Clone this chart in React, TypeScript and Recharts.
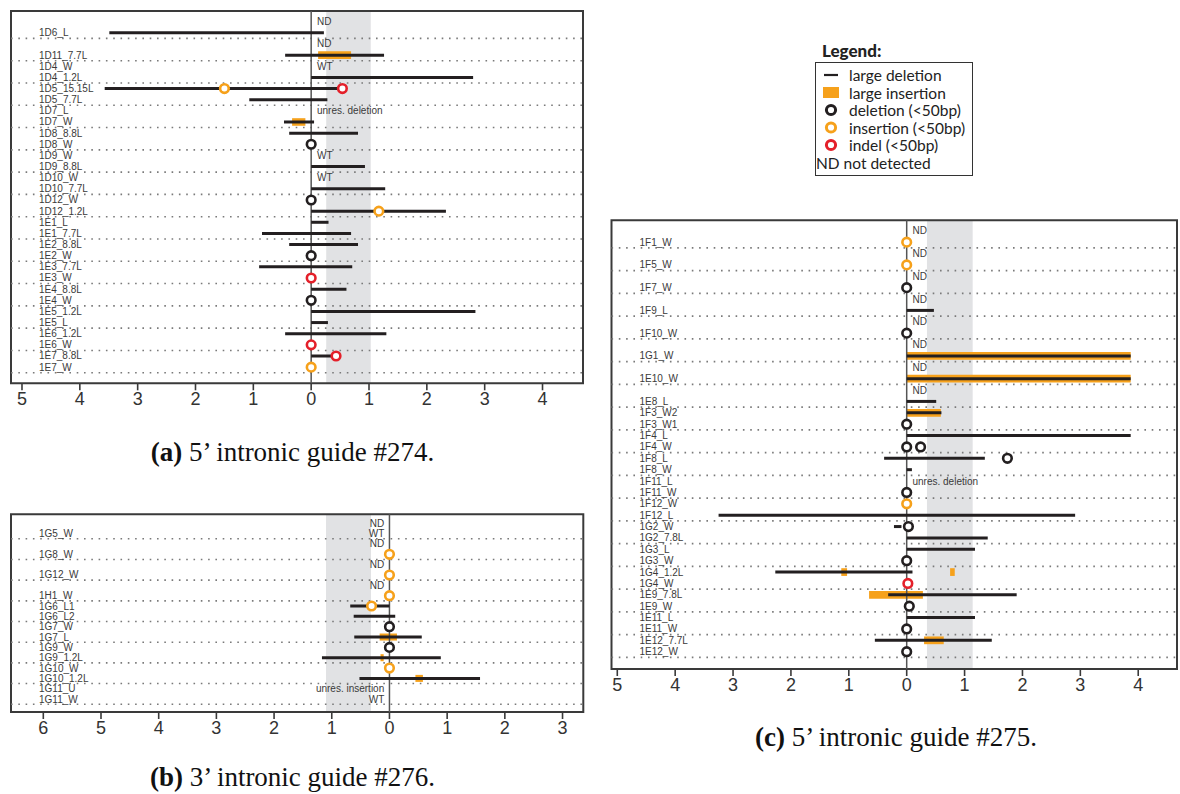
import React from 'react'
import { ScatterChart, Scatter, XAxis, YAxis, ReferenceLine, ReferenceArea } from 'recharts'

type Seg = { row: number; from: number; to: number }
type Mark = { row: number; x: number }
type Note = { row: number; text: string }

const BLACK = '#231f20'
const ORANGE = '#f6a11b'
const RED = '#e4202a'
const FRAME = '#3a3a3a'

// (a) 5' intronic guide #274
const labelsA = [
  '', '1D6_L', '', '1D11_7.7L', '1D4_W', '1D4_1.2L', '1D5_15.15L', '1D5_7.7L',
  '1D7_L', '1D7_W', '1D8_8.8L', '1D8_W', '1D9_W', '1D9_8.8L', '1D10_W', '1D10_7.7L',
  '1D12_W', '1D12_1.2L', '1E1_L', '1E1_7.7L', '1E2_8.8L', '1E2_W', '1E3_7.7L', '1E3_W',
  '1E4_8.8L', '1E4_W', '1E5_1.2L', '1E5_L', '1E6_1.2L', '1E6_W', '1E7_8.8L', '1E7_W',
]
const deletionsA: Seg[] = [
  { row: 1, from: -3.49, to: 0.22 },
  { row: 3, from: -0.45, to: 1.26 },
  { row: 5, from: 0, to: 2.8 },
  { row: 6, from: -3.57, to: 0.52 },
  { row: 7, from: -1.07, to: 0.28 },
  { row: 9, from: -0.47, to: 0.05 },
  { row: 10, from: -0.38, to: 0.81 },
  { row: 13, from: 0, to: 0.93 },
  { row: 15, from: 0, to: 1.28 },
  { row: 17, from: 0, to: 2.33 },
  { row: 18, from: 0, to: 0.3 },
  { row: 19, from: -0.85, to: 0.69 },
  { row: 20, from: -0.38, to: 0.81 },
  { row: 22, from: -0.9, to: 0.71 },
  { row: 24, from: 0, to: 0.61 },
  { row: 26, from: 0, to: 2.84 },
  { row: 27, from: 0, to: 0.29 },
  { row: 28, from: -0.45, to: 1.3 },
  { row: 30, from: 0, to: 0.43 },
]
const insertionsA: Seg[] = [
  { row: 3, from: 0.12, to: 0.69 },
  { row: 9, from: -0.33, to: -0.1 },
]
const smallDelA: Mark[] = [
  { row: 11, x: 0 }, { row: 16, x: 0 }, { row: 21, x: 0 }, { row: 25, x: 0 },
]
const smallInsA: Mark[] = [
  { row: 6, x: -1.5 }, { row: 17, x: 1.17 }, { row: 31, x: 0 },
]
const indelA: Mark[] = [
  { row: 6, x: 0.54 }, { row: 23, x: 0 }, { row: 29, x: 0 }, { row: 30, x: 0.43 },
]
const notesA: Note[] = [
  { row: 0, text: 'ND' }, { row: 2, text: 'ND' }, { row: 4, text: 'WT' },
  { row: 8, text: 'unres. deletion' }, { row: 12, text: 'WT' }, { row: 14, text: 'WT' },
]
const ticksA = [-5, -4, -3, -2, -1, 0, 1, 2, 3, 4]

// (b) 3' intronic guide #276
const labelsB = [
  '', '1G5_W', '', '1G8_W', '', '1G12_W', '', '1H1_W', '1G6_L1', '1G6_L2',
  '1G7_W', '1G7_L', '1G9_W', '1G9_1.2L', '1G10_W', '1G10_1.2L', '1G11_U', '1G11_W',
]
const deletionsB: Seg[] = [
  { row: 8, from: -0.68, to: 0 },
  { row: 9, from: -0.62, to: 0.1 },
  { row: 11, from: -0.61, to: 0.56 },
  { row: 13, from: -1.17, to: 0.89 },
  { row: 15, from: -0.52, to: 1.57 },
]
const insertionsB: Seg[] = [
  { row: 11, from: -0.17, to: 0.13 },
  { row: 13, from: -0.155, to: -0.1 },
  { row: 15, from: 0.45, to: 0.58 },
]
const smallDelB: Mark[] = [{ row: 10, x: 0 }, { row: 12, x: 0 }]
const smallInsB: Mark[] = [
  { row: 3, x: 0 }, { row: 5, x: 0 }, { row: 7, x: 0 }, { row: 8, x: -0.31 }, { row: 14, x: 0 },
]
const indelB: Mark[] = []
const notesB: Note[] = [
  { row: 0, text: 'ND' }, { row: 1, text: 'WT' }, { row: 2, text: 'ND' }, { row: 4, text: 'ND' },
  { row: 6, text: 'ND' }, { row: 16, text: 'unres. insertion' }, { row: 17, text: 'WT' },
]
const ticksB = [-6, -5, -4, -3, -2, -1, 0, 1, 2, 3]

// (c) 5' intronic guide #275
const labelsC = [
  '', '1F1_W', '', '1F5_W', '', '1F7_W', '', '1F9_L', '', '1F10_W', '', '1G1_W', '', '1E10_W',
  '', '1E8_L', '1F3_W2', '1F3_W1', '1F4_L', '1F4_W', '1F8_L', '1F8_W', '1F11_L', '1F11_W',
  '1F12_W', '1F12_L', '1G2_W', '1G2_7.8L', '1G3_L', '1G3_W', '1G4_1.2L', '1G4_W',
  '1E9_7.8L', '1E9_W', '1E11_L', '1E11_W', '1E12_7.7L', '1E12_W',
]
const deletionsC: Seg[] = [
  { row: 7, from: 0, to: 0.47 },
  { row: 11, from: 0, to: 3.87 },
  { row: 13, from: 0, to: 3.87 },
  { row: 15, from: 0, to: 0.51 },
  { row: 16, from: 0, to: 0.6 },
  { row: 18, from: 0, to: 3.87 },
  { row: 20, from: -0.39, to: 1.35 },
  { row: 21, from: 0, to: 0.09 },
  { row: 25, from: -3.25, to: 2.91 },
  { row: 26, from: -0.22, to: -0.09 },
  { row: 27, from: 0, to: 1.4 },
  { row: 28, from: 0, to: 1.18 },
  { row: 30, from: -2.27, to: 0.1 },
  { row: 32, from: -0.32, to: 1.9 },
  { row: 34, from: 0, to: 1.18 },
  { row: 36, from: -0.55, to: 1.47 },
]
const insertionsC: Seg[] = [
  { row: 11, from: 0, to: 3.87 },
  { row: 13, from: 0, to: 3.87 },
  { row: 16, from: 0, to: 0.59 },
  { row: 30, from: -1.13, to: -1.03 },
  { row: 30, from: 0.75, to: 0.83 },
  { row: 32, from: -0.65, to: 0.28 },
  { row: 36, from: 0.3, to: 0.64 },
]
const smallDelC: Mark[] = [
  { row: 5, x: 0 }, { row: 9, x: 0 }, { row: 17, x: 0 }, { row: 19, x: 0 }, { row: 19, x: 0.24 },
  { row: 20, x: 1.74 }, { row: 23, x: 0 }, { row: 26, x: 0.03 }, { row: 29, x: 0 },
  { row: 33, x: 0.045 }, { row: 35, x: 0 }, { row: 37, x: 0 },
]
const smallInsC: Mark[] = [{ row: 1, x: 0 }, { row: 3, x: 0 }, { row: 24, x: 0 }]
const indelC: Mark[] = [{ row: 31, x: 0.02 }]
const notesC: Note[] = [
  { row: 0, text: 'ND' }, { row: 2, text: 'ND' }, { row: 4, text: 'ND' }, { row: 6, text: 'ND' },
  { row: 8, text: 'ND' }, { row: 10, text: 'ND' }, { row: 12, text: 'ND' }, { row: 14, text: 'ND' },
  { row: 22, text: 'unres. deletion' },
]
const ticksC = [-5, -4, -3, -2, -1, 0, 1, 2, 3, 4]

const ring = (color: string) => (props: any) => (
  <circle cx={props.cx} cy={props.cy} r={4.3} fill="#fff" stroke={color} strokeWidth={2.6} />
)

interface PanelProps {
  labels: string[]
  dels: Seg[]
  ins: Seg[]
  smallDel: Mark[]
  smallIns: Mark[]
  indel: Mark[]
  notes: Note[]
  ticks: number[]
  xDomain: [number, number]
  yDomain: [number, number]
  band: [number, number]
  notesLeft?: boolean
  width: number
  height: number
  margin: { top: number; right: number; bottom: number; left: number }
}

const Panel: React.FC<PanelProps> = (p) => {
  const rows = p.labels.map((_, i) => i)
  const seps = rows.filter((i) => i % 2 === 1).map((i) => i + 0.5)
  const noteX = p.notesLeft ? -0.09 : 0.1
  const toPts = (m: Mark[]) => m.map((d) => ({ x: d.x, y: d.row }))
  const notePts = p.notes.map((n) => ({ x: noteX, y: n.row, text: n.text }))

  return (
    <ScatterChart width={p.width} height={p.height} margin={p.margin}>
      <XAxis
        type="number"
        dataKey="x"
        domain={p.xDomain}
        allowDataOverflow
        ticks={p.ticks}
        interval={0}
        tickFormatter={(v: number) => String(Math.abs(v))}
        axisLine={false}
        tickLine={{ stroke: FRAME, strokeWidth: 1.6 }}
        tickSize={7}
        tickMargin={2}
        height={30}
        tick={{ fontSize: 18, fill: '#333', fontFamily: 'Liberation Sans, Arial, sans-serif' }}
      />
      <YAxis
        type="number"
        dataKey="y"
        domain={p.yDomain}
        allowDataOverflow
        reversed
        ticks={rows}
        interval={0}
        width={1}
        axisLine={false}
        tickLine={false}
        tickSize={0}
        tickMargin={0}
        tick={(t: any) => (
          <text
            x={t.x + 28}
            y={t.y}
            dominantBaseline="central"
            fontSize={10}
            fill="#3a3a3a"
            fontFamily="Liberation Sans, Arial, sans-serif"
          >
            {p.labels[t.payload.value] ?? ''}
          </text>
        )}
      />
      <ReferenceArea
        x1={p.band[0]}
        x2={p.band[1]}
        y1={p.yDomain[0]}
        y2={p.yDomain[1]}
        fill="#e1e2e4"
        fillOpacity={1}
        stroke="none"
      />
      {seps.map((y) => (
        <ReferenceLine key={'s' + y} y={y} stroke="#7a7a7a" strokeWidth={1.6} strokeDasharray="1.6 5.7" />
      ))}
      <ReferenceLine x={0} stroke="#555" strokeWidth={1.5} />
      {p.ins.map((s, i) => (
        <ReferenceArea
          key={'i' + i}
          x1={s.from}
          x2={s.to}
          y1={s.row - 0.34}
          y2={s.row + 0.34}
          fill={ORANGE}
          fillOpacity={1}
          stroke="none"
        />
      ))}
      {p.dels.map((s, i) => (
        <ReferenceLine
          key={'d' + i}
          segment={[{ x: s.from, y: s.row }, { x: s.to, y: s.row }]}
          stroke={BLACK}
          strokeWidth={3}
        />
      ))}
      <Scatter data={toPts(p.smallDel)} shape={ring(BLACK)} isAnimationActive={false} />
      <Scatter data={toPts(p.smallIns)} shape={ring(ORANGE)} isAnimationActive={false} />
      <Scatter data={toPts(p.indel)} shape={ring(RED)} isAnimationActive={false} />
      <Scatter
        data={notePts}
        isAnimationActive={false}
        shape={(s: any) => (
          <text
            x={s.cx}
            y={s.cy}
            dominantBaseline="central"
            textAnchor={p.notesLeft ? 'end' : 'start'}
            fontSize={10}
            fill="#3a3a3a"
            fontFamily="Liberation Sans, Arial, sans-serif"
          >
            {s.payload.text}
          </text>
        )}
      />
      <ReferenceArea
        x1={p.xDomain[0]}
        x2={p.xDomain[1]}
        y1={p.yDomain[0]}
        y2={p.yDomain[1]}
        fill="none"
        stroke={FRAME}
        strokeWidth={2}
      />
    </ScatterChart>
  )
}

const captionStyle: React.CSSProperties = {
  position: 'absolute',
  textAlign: 'center',
  fontFamily: 'Liberation Serif, Times New Roman, serif',
  fontSize: 27,
  lineHeight: '30px',
  color: '#111',
}

const legendFont = 'Lato, Open Sans, sans-serif'

const App = () => {
  return (
    <div style={{ position: 'absolute', left: 0, top: 0, width: 1180, height: 794, background: '#fff' }}>
      <div style={{ position: 'absolute', left: 0, top: 0 }}>
        <Panel
          labels={labelsA}
          dels={deletionsA}
          ins={insertionsA}
          smallDel={smallDelA}
          smallIns={smallInsA}
          indel={indelA}
          notes={notesA}
          ticks={ticksA}
          xDomain={[-5.19, 4.7]}
          yDomain={[-0.96, 32.45]}
          band={[0.26, 1.03]}
          width={600}
          height={420}
          margin={{ top: 11, left: 10, right: 17, bottom: 6.7 }}
        />
      </div>
      <div style={{ ...captionStyle, left: 0, top: 437, width: 585 }}>
        <b>(a)</b> 5’ intronic guide #274.
      </div>

      <div style={{ position: 'absolute', left: 0, top: 500 }}>
        <Panel
          labels={labelsB}
          dels={deletionsB}
          ins={insertionsB}
          smallDel={smallDelB}
          smallIns={smallInsB}
          indel={indelB}
          notes={notesB}
          ticks={ticksB}
          xDomain={[-6.56, 3.36]}
          yDomain={[-0.87, 18.25]}
          band={[-1.1, -0.32]}
          notesLeft
          width={600}
          height={250}
          margin={{ top: 14.3, left: 10, right: 16.7, bottom: 8 }}
        />
      </div>
      <div style={{ ...captionStyle, left: 0, top: 762, width: 585 }}>
        <b>(b)</b> 3’ intronic guide #276.
      </div>

      <div style={{ position: 'absolute', left: 600, top: 200 }}>
        <Panel
          labels={labelsC}
          dels={deletionsC}
          ins={insertionsC}
          smallDel={smallDelC}
          smallIns={smallInsC}
          indel={indelC}
          notes={notesC}
          ticks={ticksC}
          xDomain={[-5.1, 4.67]}
          yDomain={[-0.92, 38.52]}
          band={[0.35, 1.14]}
          width={580}
          height={510}
          margin={{ top: 20.3, left: 10.5, right: 3, bottom: 11 }}
        />
      </div>
      <div style={{ ...captionStyle, left: 600, top: 722, width: 592 }}>
        <b>(c)</b> 5’ intronic guide #275.
      </div>

      <svg style={{ position: 'absolute', left: 810, top: 35 }} width={180} height={150}>
        <text x={12} y={15} dominantBaseline="central" fontSize={17} fontWeight={900} fill="#222" fontFamily={legendFont}>
          Legend:
        </text>
        <rect x={5.5} y={27.5} width={157} height={113} fill="#fff" stroke="#333" strokeWidth={1} />
        <line x1={14} x2={28} y1={40} y2={40} stroke={BLACK} strokeWidth={2.2} />
        <rect x={13} y={52} width={16} height={11} fill={ORANGE} />
        <circle cx={21} cy={75} r={4.6} fill="#fff" stroke={BLACK} strokeWidth={3} />
        <circle cx={21} cy={92.5} r={4.6} fill="#fff" stroke={ORANGE} strokeWidth={3} />
        <circle cx={21} cy={110} r={4.6} fill="#fff" stroke={RED} strokeWidth={3} />
        <g fontSize={15.5} fill="#222" fontFamily={legendFont}>
          <text x={39} y={40} dominantBaseline="central">large deletion</text>
          <text x={39} y={57.5} dominantBaseline="central">large insertion</text>
          <text x={39} y={75} dominantBaseline="central">deletion (&lt;50bp)</text>
          <text x={39} y={92.5} dominantBaseline="central">insertion (&lt;50bp)</text>
          <text x={39} y={110} dominantBaseline="central">indel (&lt;50bp)</text>
          <text x={6} y={127.5} dominantBaseline="central">ND not detected</text>
        </g>
      </svg>
    </div>
  )
}

export default App
